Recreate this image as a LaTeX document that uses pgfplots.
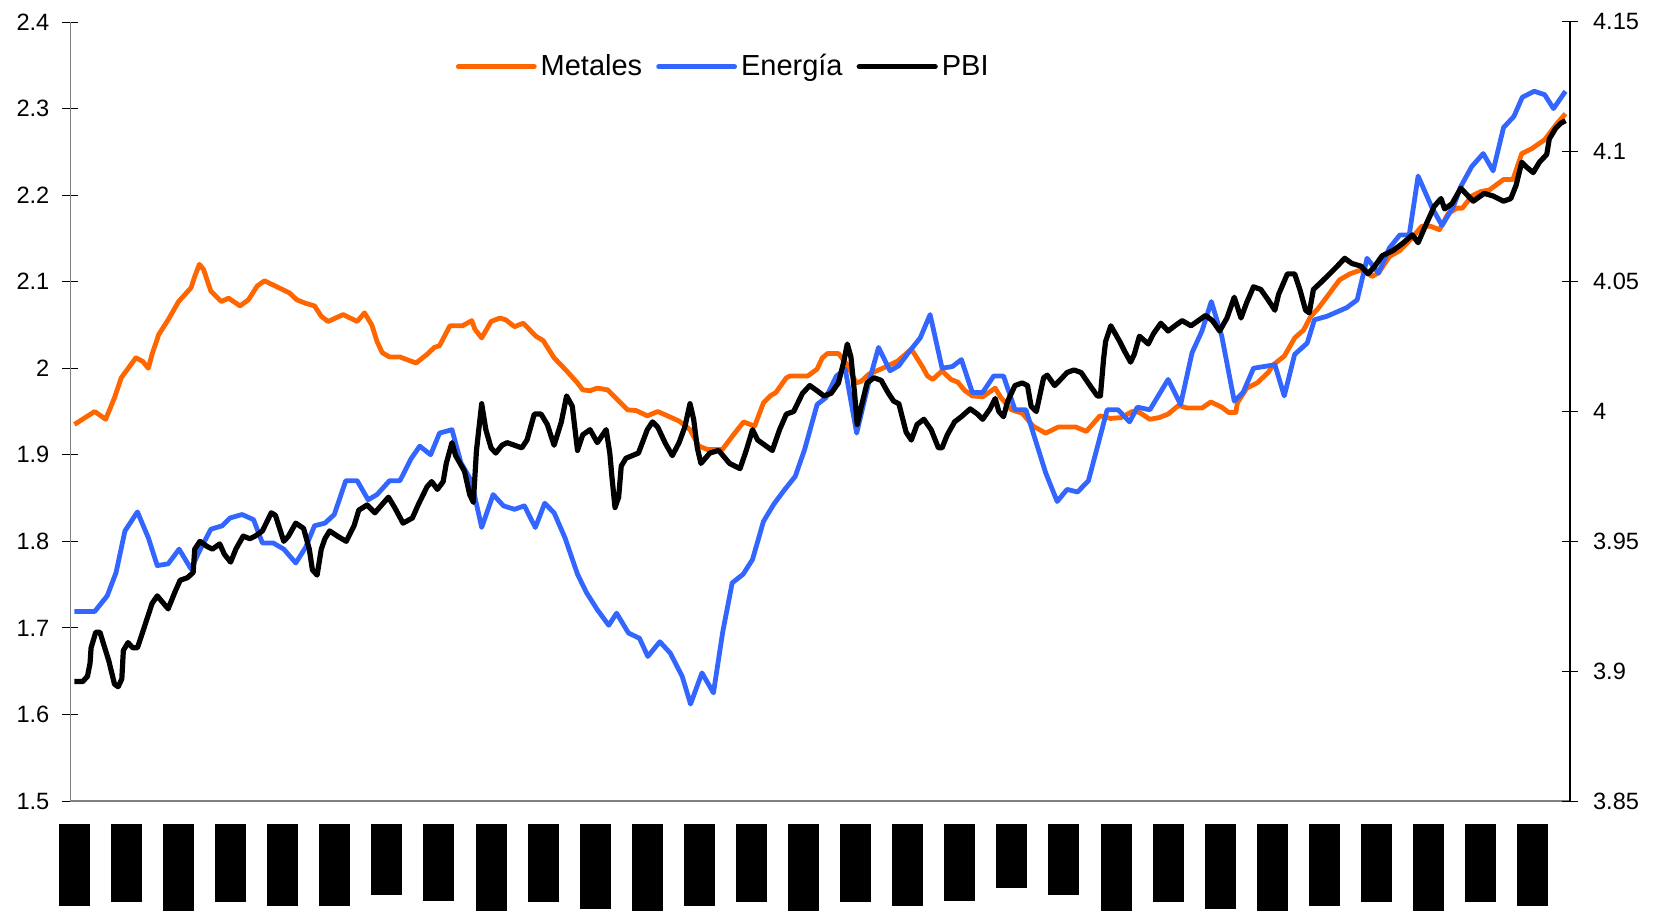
\documentclass[border=0pt]{standalone}
\usepackage{fontspec}
\setmainfont{Liberation Sans}
\usepackage{pgfplots}
\usepackage{pgfplotstable}
\pgfplotsset{compat=1.18}
\definecolor{metal}{RGB}{255,102,0}
\definecolor{energ}{RGB}{51,102,255}

% t = years from the first label, value
\pgfplotstableread{
t v
0 1.935
0.39 1.950
0.60 1.941
0.77 1.966
0.90 1.989
1.18 2.012
1.31 2.008
1.42 2.000
1.49 2.016
1.62 2.039
1.80 2.056
2.00 2.077
2.24 2.093
2.31 2.106
2.40 2.120
2.48 2.114
2.62 2.089
2.82 2.077
2.96 2.081
3.18 2.072
3.34 2.079
3.51 2.095
3.65 2.101
4.13 2.087
4.27 2.079
4.44 2.075
4.61 2.072
4.74 2.060
4.87 2.054
5.16 2.062
5.43 2.054
5.57 2.064
5.71 2.050
5.81 2.031
5.91 2.018
6.05 2.013
6.25 2.013
6.56 2.006
6.77 2.016
6.91 2.024
7.01 2.026
7.21 2.049
7.45 2.049
7.63 2.055
7.69 2.045
7.82 2.035
8.00 2.054
8.17 2.058
8.28 2.056
8.45 2.048
8.62 2.052
8.86 2.037
9.00 2.032
9.21 2.012
9.45 1.997
9.66 1.983
9.76 1.975
9.90 1.974
10.04 1.977
10.24 1.975
10.62 1.952
10.79 1.951
11.00 1.945
11.20 1.950
11.61 1.939
11.82 1.929
11.99 1.910
12.16 1.906
12.44 1.906
12.64 1.922
12.85 1.938
13.06 1.933
13.23 1.960
13.36 1.968
13.47 1.972
13.67 1.989
13.74 1.991
14.08 1.991
14.26 1.999
14.36 2.012
14.46 2.017
14.67 2.017
14.84 2.004
15.01 1.983
15.11 1.985
15.25 1.993
15.52 2.000
15.80 2.008
16.07 2.022
16.28 2.002
16.38 1.991
16.48 1.987
16.66 1.997
16.83 1.987
16.96 1.984
17.10 1.974
17.24 1.968
17.44 1.967
17.68 1.977
17.79 1.966
17.99 1.952
18.20 1.948
18.41 1.933
18.65 1.925
18.89 1.932
19.23 1.932
19.43 1.927
19.69 1.945
19.90 1.942
20.10 1.943
20.31 1.950
20.45 1.949
20.65 1.941
20.83 1.943
21.00 1.947
21.20 1.957
21.37 1.954
21.65 1.954
21.82 1.961
22.03 1.955
22.16 1.949
22.30 1.949
22.33 1.960
22.51 1.977
22.71 1.983
22.92 1.995
23.02 2.004
23.23 2.014
23.43 2.035
23.60 2.044
23.74 2.060
23.88 2.069
24.08 2.085
24.29 2.102
24.49 2.109
24.77 2.115
24.91 2.106
25.04 2.110
25.25 2.129
25.45 2.136
25.66 2.149
25.87 2.164
26.04 2.164
26.21 2.160
26.38 2.179
26.55 2.185
26.65 2.185
26.83 2.199
27.00 2.204
27.17 2.206
27.44 2.218
27.62 2.218
27.79 2.248
27.99 2.254
28.23 2.264
28.47 2.283
28.63 2.294
}\metales

\pgfplotstableread{
t v
0 1.719
0.39 1.719
0.63 1.737
0.80 1.764
0.97 1.812
1.21 1.834
1.42 1.804
1.59 1.772
1.80 1.774
2.01 1.791
2.24 1.768
2.41 1.790
2.62 1.814
2.84 1.818
2.99 1.827
3.22 1.831
3.44 1.825
3.61 1.798
3.82 1.798
4.02 1.791
4.25 1.775
4.44 1.793
4.61 1.818
4.81 1.821
4.99 1.831
5.21 1.870
5.43 1.870
5.64 1.848
5.81 1.854
6.05 1.870
6.25 1.870
6.46 1.895
6.63 1.910
6.84 1.900
7.01 1.925
7.25 1.929
7.42 1.891
7.62 1.870
7.82 1.816
8.04 1.854
8.24 1.841
8.45 1.837
8.64 1.841
8.85 1.816
9.03 1.844
9.21 1.833
9.42 1.804
9.66 1.762
9.83 1.741
10.04 1.721
10.26 1.703
10.41 1.717
10.64 1.694
10.85 1.688
11.01 1.667
11.24 1.684
11.44 1.671
11.67 1.644
11.83 1.612
12.05 1.648
12.27 1.625
12.45 1.696
12.63 1.752
12.84 1.762
13.02 1.779
13.23 1.823
13.43 1.843
13.64 1.860
13.84 1.875
14.02 1.906
14.26 1.958
14.43 1.966
14.63 1.991
14.80 1.999
15.02 1.925
15.25 1.983
15.44 2.024
15.66 1.997
15.83 2.003
16.04 2.020
16.24 2.035
16.43 2.062
16.66 2.000
16.86 2.002
17.03 2.010
17.24 1.972
17.44 1.972
17.65 1.991
17.84 1.991
18.06 1.952
18.27 1.952
18.65 1.879
18.87 1.846
19.06 1.860
19.26 1.857
19.47 1.870
19.83 1.952
20.04 1.952
20.26 1.938
20.41 1.955
20.65 1.952
21.00 1.987
21.24 1.958
21.46 2.018
21.65 2.043
21.83 2.077
22.03 2.037
22.27 1.962
22.44 1.972
22.64 2.000
23.05 2.004
23.23 1.968
23.43 2.016
23.67 2.029
23.81 2.056
24.05 2.060
24.43 2.070
24.63 2.079
24.82 2.127
25.04 2.110
25.25 2.139
25.45 2.154
25.63 2.154
25.80 2.222
26.07 2.185
26.26 2.165
26.48 2.187
26.62 2.210
26.83 2.233
27.05 2.248
27.24 2.228
27.44 2.278
27.64 2.291
27.80 2.313
28.03 2.320
28.23 2.316
28.40 2.300
28.63 2.320
}\energia

\pgfplotstableread{
t v
0 3.896
0.16 3.896
0.25 3.898
0.30 3.903
0.32 3.909
0.41 3.915
0.49 3.915
0.66 3.904
0.77 3.895
0.84 3.894
0.91 3.897
0.94 3.908
1.03 3.911
1.12 3.909
1.21 3.909
1.31 3.915
1.49 3.926
1.59 3.929
1.80 3.924
1.92 3.930
2.03 3.935
2.17 3.936
2.28 3.938
2.31 3.947
2.41 3.950
2.55 3.948
2.65 3.947
2.79 3.949
2.88 3.945
3.00 3.942
3.10 3.947
3.24 3.952
3.37 3.951
3.47 3.952
3.61 3.954
3.78 3.961
3.86 3.960
4.02 3.950
4.11 3.952
4.25 3.957
4.40 3.955
4.51 3.947
4.57 3.939
4.66 3.937
4.74 3.947
4.81 3.951
4.90 3.954
5.05 3.952
5.22 3.950
5.37 3.956
5.46 3.962
5.62 3.964
5.77 3.961
5.90 3.964
6.03 3.967
6.15 3.963
6.31 3.957
6.49 3.959
6.60 3.964
6.77 3.971
6.86 3.973
6.97 3.970
7.08 3.973
7.14 3.980
7.25 3.988
7.32 3.983
7.49 3.977
7.59 3.968
7.66 3.965
7.72 3.985
7.82 4.003
7.90 3.993
8.00 3.986
8.09 3.984
8.21 3.987
8.31 3.988
8.45 3.987
8.59 3.986
8.69 3.989
8.83 3.999
8.96 3.999
9.08 3.995
9.21 3.987
9.35 3.996
9.45 4.006
9.56 4.002
9.66 3.985
9.76 3.991
9.90 3.993
10.04 3.988
10.21 3.993
10.28 3.984
10.32 3.975
10.38 3.963
10.45 3.967
10.50 3.979
10.59 3.982
10.83 3.984
11.00 3.993
11.10 3.996
11.20 3.994
11.34 3.988
11.48 3.983
11.61 3.988
11.72 3.994
11.82 4.003
11.89 3.997
11.96 3.986
12.03 3.980
12.20 3.984
12.37 3.985
12.58 3.980
12.78 3.978
12.90 3.985
13.02 3.993
13.12 3.989
13.26 3.987
13.40 3.985
13.54 3.993
13.67 3.999
13.81 4.000
13.98 4.007
14.12 4.010
14.26 4.008
14.39 4.006
14.53 4.007
14.67 4.011
14.77 4.019
14.84 4.026
14.91 4.021
14.98 4.007
15.03 3.995
15.11 4.002
15.22 4.011
15.35 4.013
15.49 4.012
15.63 4.007
15.73 4.004
15.83 4.003
15.97 3.992
16.07 3.989
16.18 3.995
16.31 3.997
16.45 3.993
16.59 3.986
16.66 3.986
16.76 3.991
16.90 3.996
17.03 3.998
17.20 4.001
17.34 3.999
17.44 3.997
17.58 4.001
17.68 4.005
17.75 4.000
17.84 3.998
17.92 4.004
18.06 4.010
18.20 4.011
18.30 4.010
18.37 4.002
18.47 4.000
18.61 4.013
18.68 4.014
18.82 4.010
18.92 4.012
19.06 4.015
19.19 4.016
19.33 4.015
19.50 4.010
19.64 4.006
19.70 4.006
19.76 4.020
19.80 4.027
19.90 4.033
20.07 4.027
20.17 4.023
20.28 4.019
20.35 4.022
20.45 4.029
20.62 4.026
20.72 4.030
20.86 4.034
21.00 4.031
21.13 4.033
21.27 4.035
21.44 4.033
21.58 4.035
21.72 4.037
21.85 4.035
21.99 4.031
22.13 4.036
22.27 4.044
22.40 4.036
22.51 4.042
22.64 4.048
22.78 4.047
22.92 4.043
23.05 4.039
23.12 4.045
23.29 4.053
23.43 4.053
23.53 4.047
23.64 4.039
23.71 4.038
23.79 4.047
23.95 4.050
24.15 4.054
24.25 4.056
24.39 4.059
24.53 4.057
24.70 4.056
24.84 4.053
24.97 4.056
25.11 4.060
25.32 4.062
25.52 4.065
25.69 4.068
25.80 4.065
25.93 4.071
26.11 4.079
26.24 4.082
26.31 4.078
26.45 4.080
26.62 4.086
26.76 4.083
26.86 4.081
27.07 4.084
27.24 4.083
27.44 4.081
27.58 4.082
27.68 4.087
27.79 4.096
27.89 4.094
28.01 4.092
28.13 4.096
28.27 4.099
28.32 4.105
28.44 4.109
28.54 4.111
28.63 4.112
}\pbi

\newcommand{\blk}[1]{\rule{15.5pt}{#1pt}}

\begin{document}
\begin{tikzpicture}
\pgfplotsset{
  base/.style={
    scale only axis, width=749.8pt, height=389.5pt,
    at={(0,0)}, anchor=south west,
    xmin=-0.077, xmax=28.717,
    tick align=center, major tick length=8pt,
    tick style={black, line width=0.5pt},
    /pgf/number format/assume math mode=true,
    tick label style={font=\fontsize{11.8}{13}\selectfont},
    line join=round,
  },
}
\begin{axis}[base,
  axis x line=bottom, axis y line=left,
  axis line style={-, gray, line width=0.6pt},
  ymin=1.5, ymax=2.4,
  ytick={1.5,1.6,1.7,1.8,1.9,2,2.1,2.2,2.3,2.4},
  y tick label style={xshift=-3pt},
  xtick={0,1,...,28},
  xtick style={draw=none},
  x tick label style={anchor=north, inner sep=0pt, yshift=-7.3pt},
  xticklabels={\blk{40.85},\blk{39.2},\blk{45},\blk{39.2},\blk{40.85},\blk{40.85},
    \blk{35.35},\blk{38.35},\blk{45},\blk{39.2},\blk{42.5},\blk{45},\blk{40.85},
    \blk{39.2},\blk{45},\blk{39.2},\blk{40.85},\blk{38.35},\blk{32.2},\blk{35.35},
    \blk{45},\blk{39.2},\blk{42.5},\blk{45},\blk{40.85},\blk{39.2},\blk{45},
    \blk{39.2},\blk{40.85}},
]
\addplot[metal, line width=2.4pt] table[x=t, y=v] {\metales};
\addplot[energ, line width=2.4pt] table[x=t, y=v] {\energia};
\end{axis}
\begin{axis}[base,
  axis x line=none, axis y line=right,
  axis line style={-, black, line width=0.6pt},
  ymin=3.85, ymax=4.15,
  ytick={3.85,3.9,3.95,4,4.05,4.1,4.15},
  y tick label style={xshift=4pt},
  legend style={at={(0.436,0.9426)}, anchor=center, draw=none, fill=none,
    legend columns=3, font=\fontsize{14.5}{17}\selectfont,
    /tikz/every even column/.append style={column sep=5pt}},
  legend image code/.code={\draw[#1, line cap=round] (0pt,0pt) -- (38pt,0pt);},
]
\addlegendimage{metal, line width=2.4pt}
\addlegendentry{Metales}
\addlegendimage{energ, line width=2.4pt}
\addlegendentry{Energía}
\addplot[black, line width=2.6pt] table[x=t, y=v] {\pbi};
\addlegendentry{PBI}
\end{axis}
\pgfresetboundingbox
\path[use as bounding box] (-35.2pt,-54.5pt) rectangle (796.8pt,400.5pt);
\end{tikzpicture}
\end{document}
